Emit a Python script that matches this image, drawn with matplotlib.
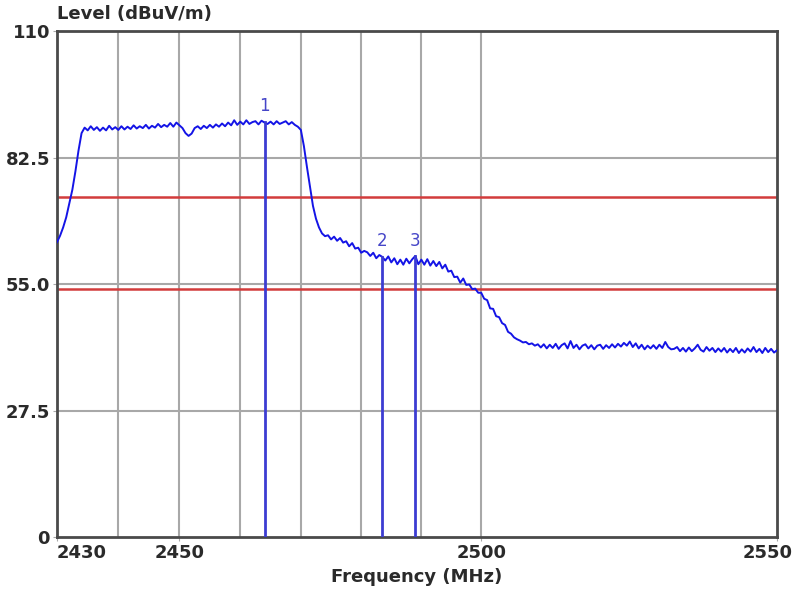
import numpy as np
import matplotlib
matplotlib.use("Agg")
import matplotlib.pyplot as plt
import matplotlib.transforms as mtransforms

# measured level, 0.5 MHz steps from 2430 MHz (one row = 5 MHz)
level = [
    64.1, 65.5, 67.3, 69.5, 72.5, 75.5, 79.5, 84.0, 87.8, 89.0,
    88.4, 89.3, 88.5, 89.1, 88.3, 89.0, 88.4, 89.4, 88.6, 89.1,
    88.5, 89.3, 88.6, 89.2, 88.7, 89.5, 88.8, 89.3, 88.9, 89.6,
    88.8, 89.4, 89.0, 89.8, 89.1, 89.6, 89.2, 90.0, 89.2, 90.1,
    89.5, 88.9, 87.8, 87.2, 87.7, 88.9, 89.3, 88.7, 89.4, 88.9,
    89.6, 89.0, 89.7, 89.2, 89.9, 89.3, 90.1, 89.5, 90.6, 89.6,
    90.3, 89.7, 90.6, 89.8, 90.2, 90.4, 89.7, 90.5, 90.1, 89.8,
    90.3, 89.7, 90.4, 89.8, 90.1, 90.4, 89.7, 90.2, 89.6, 89.2,
    88.5, 85.0, 80.5, 76.3, 72.0, 69.2, 67.3, 66.0, 65.4, 65.6,
    64.7, 65.3, 64.4, 65.0, 64.0, 64.3, 63.2, 63.9, 62.7, 62.9,
    61.8, 62.2, 61.9, 61.1, 61.8, 60.6, 61.3, 60.9, 60.1, 61.0,
    59.7, 60.6, 59.3, 60.3, 59.2, 60.5, 59.5, 60.4, 61.1, 59.3,
    60.3, 59.2, 60.4, 59.0, 60.0, 58.9, 59.8, 58.4, 59.2, 57.7,
    57.9, 56.5, 56.6, 55.3, 56.2, 54.8, 54.9, 53.9, 54.0, 53.1,
    53.1, 51.8, 51.5, 49.7, 49.6, 48.0, 47.8, 46.5, 46.1, 44.6,
    44.2, 43.4, 43.0, 42.7, 42.3, 42.4, 41.9, 42.1, 41.6, 41.9,
    41.2, 41.9, 41.0, 41.8, 41.1, 42.0, 40.9, 41.7, 42.1, 41.0,
    42.6, 41.1, 41.8, 40.8, 41.6, 41.9, 41.0, 41.7, 40.8, 41.6,
    41.8, 40.9, 41.7, 41.1, 41.9, 41.2, 42.0, 41.4, 42.2, 41.6,
    42.5, 41.3, 42.1, 41.0, 41.8, 40.8, 41.6, 41.0, 41.7, 40.9,
    41.8, 41.1, 42.4, 41.3, 40.8, 40.9, 41.3, 40.4, 41.1, 40.3,
    41.2, 40.4, 41.0, 41.8, 40.7, 40.3, 41.3, 40.5, 41.1, 40.2,
    41.0, 40.3, 41.1, 40.1, 40.9, 40.2, 41.1, 40.0, 40.8, 40.1,
    41.0, 40.3, 41.3, 40.2, 40.9, 40.0, 41.1, 40.2, 40.9, 40.1,
    40.6,
]
freq = 2430 + 0.5 * np.arange(len(level))

limit_lines = [74, 54]
marker_freq = [2464, 2483.5, 2489]
marker_level = [90.2, 60.9, 61.0]
marker_names = ["1", "2", "3"]

x_ticks = [2430, 2450, 2500, 2550]
x_grid = [2440, 2450, 2460, 2470, 2480, 2490, 2500]
y_ticks = [0, 27.5, 55.0, 82.5, 110]
y_tick_labels = ["0", "27.5", "55.0", "82.5", "110"]

fig = plt.figure(figsize=(7.96, 5.99), dpi=100)
ax = fig.add_axes([0.0716, 0.1035, 0.9045, 0.8447])
ax.set_xscale("log")
ax.set_xlim(2430, 2550)
ax.set_ylim(0, 110)

grid_c = "#a8a8a8"
for g in x_grid:
    ax.axvline(g, color=grid_c, lw=1.5, zorder=1)
for g in y_ticks[1:-1]:
    ax.axhline(g, color=grid_c, lw=1.5, zorder=1)
for lim in limit_lines:
    ax.axhline(lim, color="#d23c3c", lw=1.8, zorder=2)

ax.plot(freq, level, color="#1414e6", lw=1.4, zorder=3)

for f, lv, name in zip(marker_freq, marker_level, marker_names):
    ax.plot([f, f], [0, lv], color="#3c3cd2", lw=2, zorder=4)
    ax.text(f, lv + 1.5, name, color="#4646c8", fontsize=12,
            ha="center", va="bottom", zorder=5)

ax.xaxis.set_minor_locator(matplotlib.ticker.NullLocator())
ax.set_xticks(x_ticks)
ax.set_xticklabels([str(t) for t in x_ticks])
ax.set_yticks(y_ticks)
ax.set_yticklabels(y_tick_labels)
ax.tick_params(axis="both", length=3, color=grid_c, labelsize=13,
               labelcolor="#2a2a2a", pad=2)
for lbl in ax.get_xticklabels() + ax.get_yticklabels():
    lbl.set_fontweight("bold")

xl = ax.get_xticklabels()
xl[0].set_ha("left")
xl[-1].set_transform(xl[-1].get_transform() +
                     mtransforms.ScaledTranslation(-0.09, 0, fig.dpi_scale_trans))

for s in ax.spines.values():
    s.set_color("#4a4a4a")
    s.set_linewidth(2)

ax.set_xlabel("Frequency (MHz)", fontsize=13, fontweight="bold",
              color="#2a2a2a", labelpad=4)
fig.text(0.071, 0.977, "Level (dBuV/m)", fontsize=13, fontweight="bold",
         color="#2a2a2a", ha="left", va="center")

fig.savefig("out.png", dpi=100)
